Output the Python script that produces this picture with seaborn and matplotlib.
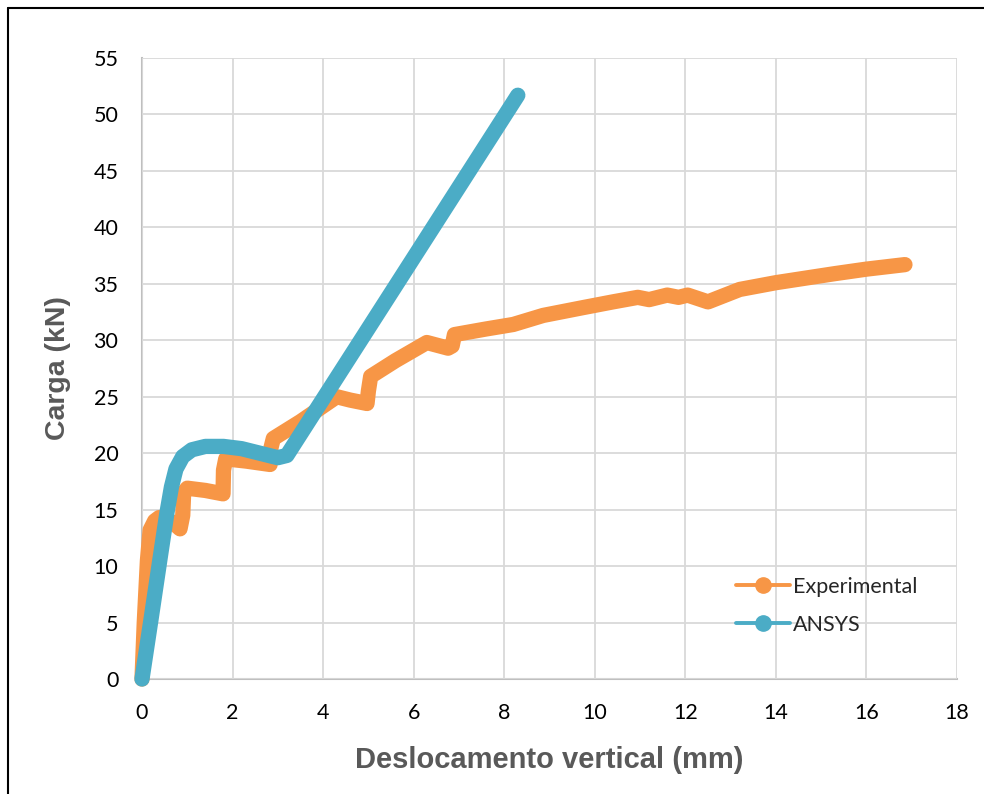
import matplotlib
matplotlib.use("Agg")
import matplotlib.pyplot as plt
from matplotlib.lines import Line2D
import seaborn as sns
import pandas as pd

# Experimental load–displacement curve
exp_disp = [0.0, 0.05, 0.12, 0.18, 0.28, 0.38, 0.50, 0.70, 0.84, 0.90, 0.92, 1.00,
            1.40, 1.79, 1.80, 1.85, 2.30, 2.83, 2.85, 2.90, 3.50, 4.30, 4.60, 4.97,
            5.00, 5.05, 5.60, 6.29, 6.76, 6.85, 6.90, 7.60, 8.20, 8.86, 9.75, 10.40,
            10.95, 11.20, 11.60, 11.85, 12.05, 12.50, 13.20, 14.00, 15.30, 16.00, 16.85]
exp_load = [0.0, 5.0, 10.5, 13.2, 14.0, 14.3, 14.3, 13.8, 13.3, 14.5, 16.5, 16.9,
            16.7, 16.4, 18.5, 19.5, 19.3, 19.0, 20.5, 21.3, 22.8, 25.0, 24.7, 24.4,
            25.5, 26.8, 28.2, 29.8, 29.3, 29.5, 30.5, 31.0, 31.4, 32.2, 32.9, 33.4,
            33.8, 33.6, 34.0, 33.8, 34.0, 33.4, 34.5, 35.1, 35.9, 36.3, 36.7]

# ANSYS numerical model
ansys_disp = [0.0, 0.20, 0.40, 0.55, 0.65, 0.75, 0.90, 1.10, 1.40, 1.80, 2.20, 2.60,
              3.00, 3.20, 8.30]
ansys_load = [0.0, 5.3, 10.7, 14.7, 17.0, 18.6, 19.7, 20.3, 20.6, 20.6, 20.4, 20.0,
              19.6, 19.8, 51.7]

x_ticks = [0, 2, 4, 6, 8, 10, 12, 14, 16, 18]
y_ticks = [0, 5, 10, 15, 20, 25, 30, 35, 40, 45, 50, 55]

ORANGE = "#F79646"
BLUE = "#4BACC6"

df = pd.concat([
    pd.DataFrame({"Deslocamento": exp_disp, "Carga": exp_load, "Série": "Experimental"}),
    pd.DataFrame({"Deslocamento": ansys_disp, "Carga": ansys_load, "Série": "ANSYS"}),
])

sns.set_theme(style="white")
plt.rcParams["font.family"] = ["Lato", "DejaVu Sans"]

fig = plt.figure(figsize=(9.84, 7.94), dpi=100)
ax = fig.add_axes([0.1443, 0.1448, 0.8283, 0.7822])

sns.lineplot(data=df, x="Deslocamento", y="Carga", hue="Série",
             palette={"Experimental": ORANGE, "ANSYS": BLUE},
             sort=False, estimator=None, ax=ax, legend=False,
             linewidth=11, solid_capstyle="round", solid_joinstyle="round")
for ln in ax.lines:
    ln.set_clip_on(False)

ax.set_xlim(0, 18)
ax.set_ylim(0, 55)
ax.set_xticks(x_ticks)
ax.set_yticks(y_ticks)
ax.set_xticklabels([str(t) for t in x_ticks], fontsize=15.5, color="#000000")
ax.set_yticklabels([str(t) for t in y_ticks], fontsize=15.5, color="#000000")
ax.tick_params(axis="x", pad=17, length=0)
ax.tick_params(axis="y", pad=17, length=0)

ax.grid(True, color="#D9D9D9", linewidth=1.3)
ax.set_axisbelow(True)
for side in ["top", "right"]:
    ax.spines[side].set_visible(False)
for side in ["left", "bottom"]:
    ax.spines[side].set_color("#BFBFBF")
    ax.spines[side].set_linewidth(1.5)
    ax.spines[side].set_zorder(0.5)

ax.set_xlabel("Deslocamento vertical (mm)", fontsize=21, fontweight="bold",
              color="#595959", family="Liberation Sans", labelpad=17)
ax.set_ylabel("Carga (kN)", fontsize=20.5, fontweight="bold",
              color="#595959", family="Liberation Sans", labelpad=16)

handles = [
    Line2D([0], [0], color=ORANGE, lw=2.8, marker="o", markersize=11),
    Line2D([0], [0], color=BLUE, lw=2.8, marker="o", markersize=11),
]
ax.legend(handles, ["Experimental", "ANSYS"], loc="lower left",
          bbox_to_anchor=(0.705, 0.04), frameon=False, fontsize=15.5,
          handlelength=2.5, handletextpad=0.15, labelspacing=0.85)

# chart frame (top and left edges)
fig.add_artist(Line2D([0.0085, 1.0], [0.990, 0.990], color="black", lw=1.5,
                      transform=fig.transFigure))
fig.add_artist(Line2D([0.0085, 0.0085], [0.0, 0.990], color="black", lw=1.5,
                      transform=fig.transFigure))

fig.savefig("out.png", dpi=100, facecolor="white")
